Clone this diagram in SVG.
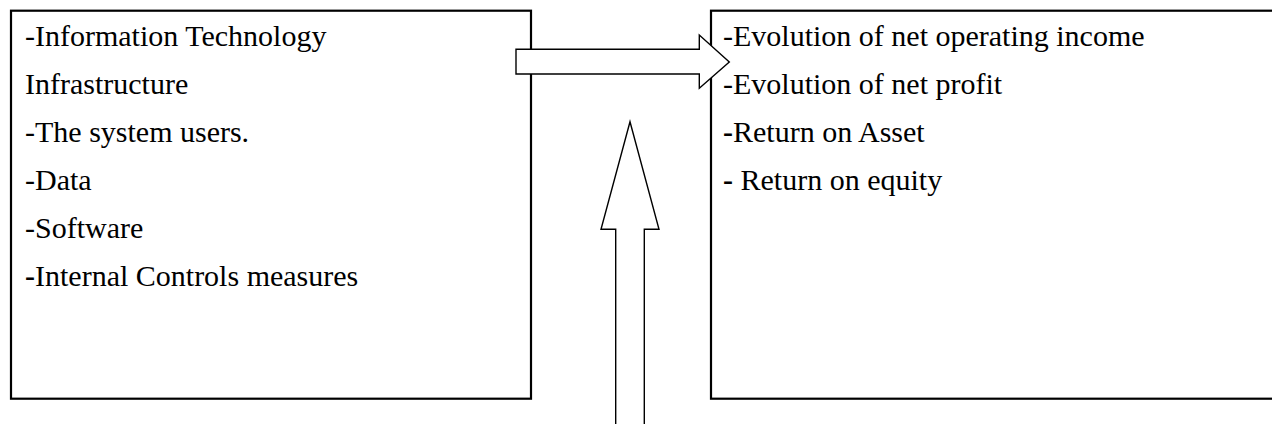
<svg xmlns="http://www.w3.org/2000/svg" width="1272" height="424" viewBox="0 0 1272 424">
  <style>
    .box { fill: #ffffff; stroke: #000000; stroke-width: 2.2; }
    .arrow { fill: #ffffff; stroke: #000000; stroke-width: 1.4; stroke-linejoin: miter; }
    .t { font-family: "Liberation Serif", "Times New Roman", serif; font-size: 30px; fill: #000000; }
    .b { font-weight: bold; }
  </style>
  <rect width="1272" height="424" fill="#ffffff"/>

  <!-- Left node: IT components -->
  <g id="it-components">
    <rect class="box" x="11" y="10.7" width="520" height="388"/>
    <text class="t" x="25" y="46">-Information Technology</text>
    <text class="t" x="25" y="94">Infrastructure</text>
    <text class="t" x="25" y="142">-The system users.</text>
    <text class="t" x="25" y="190">-Data</text>
    <text class="t" x="25" y="238">-Software</text>
    <text class="t" x="25" y="286"><tspan class="b">-</tspan>Internal Controls measures</text>
  </g>

  <!-- Right node: performance indicators -->
  <g id="performance">
    <rect class="box" x="711" y="10.7" width="600" height="388"/>
    <text class="t" x="723" y="46">-Evolution of net operating income</text>
    <text class="t" x="723" y="94">-Evolution of net profit</text>
    <text class="t" x="723" y="142"><tspan class="b">-</tspan>Return on Asset</text>
    <text class="t" x="723" y="190"><tspan class="b">-</tspan> Return on equity</text>
  </g>

  <!-- Block arrows -->
  <g id="connectors">
    <path class="arrow" d="M516,49.3 L699.3,49.3 L699.3,35 L729.3,62 L699.3,88.3 L699.3,74 L516,74 Z"/>
    <path class="arrow" d="M615.7,430 L615.7,229.3 L601,229.3 L630,121.7 L659,229.3 L644.3,229.3 L644.3,430"/>
  </g>
</svg>
